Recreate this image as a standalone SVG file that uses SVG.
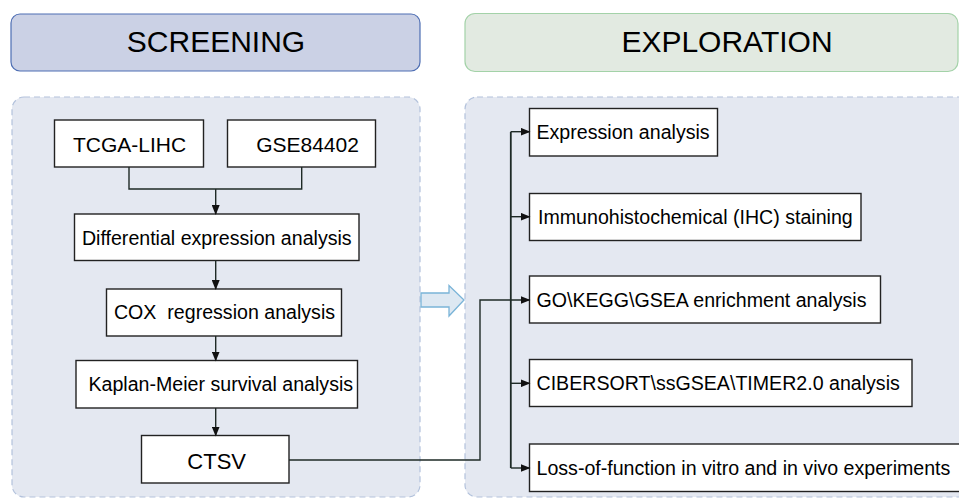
<svg xmlns="http://www.w3.org/2000/svg" width="959" height="498" viewBox="0 0 959 498">
<defs>
<style>
text{font-family:"Liberation Sans",Arial,sans-serif;fill:#000}
.hdr{font-size:30px;text-anchor:middle}
.box{fill:#fff;stroke:#222;stroke-width:1.4}
.t{font-size:19.6px}
.tb{font-size:21px;text-anchor:middle}
.c{text-anchor:middle}
.panel{fill:#e4e8f1;stroke:#b3c2dc;stroke-width:1.2;stroke-dasharray:6 4}
.conn{fill:none;stroke:#1e2a26;stroke-width:1.4}
</style>
<marker id="ah" markerWidth="10" markerHeight="8" refX="9" refY="4" orient="auto" markerUnits="userSpaceOnUse">
<path d="M0,0 L10,4 L0,8 Z" fill="#111"/>
</marker>
</defs>
<rect width="959" height="498" fill="#fff"/>

<g id="screening-header">
<rect x="11" y="14" width="409" height="57" rx="9" fill="#cbd1e5" stroke="#4e6eb3" stroke-width="1.2"/>
<text class="hdr" x="216" y="52">SCREENING</text>
</g>
<g id="exploration-header">
<rect x="465" y="13.5" width="493" height="58" rx="10" fill="#e2eae1" stroke="#a3d2a8" stroke-width="1.2"/>
<text class="hdr" x="727" y="52">EXPLORATION</text>
</g>

<g id="screening-panel"><rect class="panel" x="12" y="97" width="408" height="400" rx="12"/></g>
<g id="exploration-panel"><rect class="panel" x="465" y="97" width="510" height="400" rx="12"/></g>

<g id="big-arrow">
<path d="M421,293 L449,293 L449,285.5 L464,300 L449,316 L449,307 L421,307 Z" fill="#dde8f2" stroke="#7ab4d8" stroke-width="1.3"/>
</g>

<g id="tcga"><rect class="box" x="54.5" y="120" width="149" height="47"/><text class="tb" x="129.5" y="151.5">TCGA-LIHC</text></g>
<g id="gse"><rect class="box" x="227.5" y="120" width="148" height="47"/><text class="tb" x="307.5" y="151.5">GSE84402</text></g>
<g id="diff"><rect class="box" x="74.5" y="214" width="284.5" height="46.5"/><text class="t c" x="216.8" y="244.5">Differential expression analysis</text></g>
<g id="cox"><rect class="box" x="106.5" y="289" width="235" height="47"/><text class="t c" x="224.5" y="318.5" xml:space="preserve">COX  regression analysis</text></g>
<g id="km"><rect class="box" x="76" y="360.5" width="281.5" height="47.5"/><text class="t c" x="220.8" y="391">Kaplan-Meier survival analysis</text></g>
<g id="ctsv"><rect class="box" x="141.5" y="435.5" width="147.5" height="47.5"/><text class="c" x="216.7" y="468.5" style="font-size:22px">CTSV</text></g>

<g id="expr"><rect class="box" x="529.5" y="108.5" width="188" height="47.5"/><text class="t" x="536.5" y="139">Expression analysis</text></g>
<g id="ihc"><rect class="box" x="529.5" y="193.5" width="331.5" height="47"/><text class="t" x="538" y="223.5">Immunohistochemical (IHC) staining</text></g>
<g id="go"><rect class="box" x="529.5" y="276" width="351" height="47"/><text class="t" x="536.5" y="306.5">GO\KEGG\GSEA enrichment analysis</text></g>
<g id="cibersort"><rect class="box" x="529.5" y="359.5" width="382.5" height="47"/><text class="t" x="536.5" y="390">CIBERSORT\ssGSEA\TIMER2.0 analysis</text></g>
<g id="loss"><rect class="box" x="529.5" y="444" width="440" height="47.5"/><text class="t" x="536.5" y="474.5">Loss-of-function in vitro and in vivo experiments</text></g>

<g id="connectors">
<path class="conn" d="M129,167 V189 H301.7 V167"/>
<path class="conn" d="M215.7,189 V214" marker-end="url(#ah)"/>
<path class="conn" d="M215.7,260.5 V289" marker-end="url(#ah)"/>
<path class="conn" d="M215.7,336 V360.5" marker-end="url(#ah)"/>
<path class="conn" d="M215.7,408 V435.5" marker-end="url(#ah)"/>
<path class="conn" d="M289,460 H480 V300 H529.5" marker-end="url(#ah)"/>
<path class="conn" d="M510.8,131.7 V468" style="stroke-width:1.8"/>
<path class="conn" d="M510.8,131.7 H529.5" marker-end="url(#ah)"/>
<path class="conn" d="M510.8,216.7 H529.5" marker-end="url(#ah)"/>
<path class="conn" d="M510.8,383.3 H529.5" marker-end="url(#ah)"/>
<path class="conn" d="M510.8,468 H529.5" marker-end="url(#ah)"/>
</g>
</svg>
